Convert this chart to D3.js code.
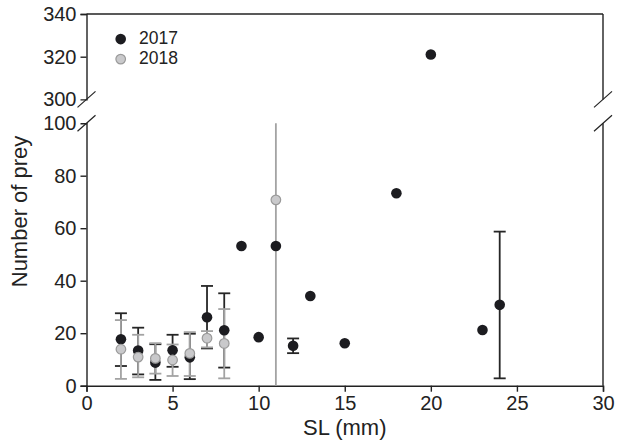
<!DOCTYPE html>
<html>
<head>
<meta charset="utf-8">
<script src="https://cdn.jsdelivr.net/npm/d3@7"></script>
<style>
  html, body { margin: 0; padding: 0; background: #fff; }
  svg text { font-family: "Liberation Sans", Arial, Helvetica, sans-serif; fill: #222; }
</style>
</head>
<body>
<svg id="chart" width="617" height="445"></svg>
<script>
// Prey counts by standard length (SL); mean with error range per size class
const sl2017   = [2, 3, 4, 5, 6, 7, 8, 9, 10, 11, 12, 13, 15, 18, 20, 23, 24];
const mean2017 = [17.7, 13.4, 8.8, 13.5, 10.8, 26.1, 21.1, 53.2, 18.5, 53.2, 15.2, 34.2, 16.2, 73.3, 321, 21.2, 30.8];
const lo2017   = [7.5, 4.3, 2.2, 7.2, 2.5, 14.2, 6.9, null, null, null, 12.4, null, null, null, null, null, 2.8];
const hi2017   = [27.6, 22.1, 15.8, 19.4, 19.8, 38.0, 35.2, null, null, null, 18.0, null, null, null, null, null, 58.7];

const sl2018   = [2, 3, 4, 5, 6, 7, 8, 11];
const mean2018 = [13.9, 10.9, 10.4, 9.8, 12.3, 18.1, 16.1, 70.8];
const lo2018   = [2.6, 3.2, 4.6, 3.7, 3.7, 14.6, 2.8, 0];
const hi2018   = [25.0, 19.4, 16.2, 15.7, 20.4, 20.8, 29.2, 100];

const xTicks = [0, 5, 10, 15, 20, 25, 30];
const yTicksLow = [0, 20, 40, 60, 80, 100];
const yTicksHigh = [300, 320, 340];
const seriesNames = ["2017", "2018"];

const svg = d3.select("#chart");
const left = 86.5, right = 603;
const lowTop = 123.2, lowBottom = 385.7;
const highTop = 14, highBottom = 99.4;

const x = d3.scaleLinear().domain([0, 30]).range([left, right]);
const yLow = d3.scaleLinear().domain([0, 100]).range([lowBottom, lowTop]);
const yHigh = d3.scaleLinear().domain([300, 340]).range([highBottom, highTop]);

const ink = "#222";
const greyLine = "#a3a3a3";
const greyFill = "#c9c9cb";
const greyStroke = "#9a9a9a";
const dark = "#1c1c20";

// value -> pixel across the broken axis
function yPos(v) { return v >= 300 ? yHigh(v) : yLow(v); }

// frame: top edge, right edge (broken), bottom handled by axis
svg.append("line").attr("x1", left).attr("x2", right).attr("y1", highTop).attr("y2", highTop)
  .attr("stroke", ink).attr("stroke-width", 1.4);
svg.append("line").attr("x1", right).attr("x2", right).attr("y1", highTop).attr("y2", highBottom)
  .attr("stroke", ink).attr("stroke-width", 1.4);
svg.append("line").attr("x1", right).attr("x2", right).attr("y1", lowTop).attr("y2", lowBottom)
  .attr("stroke", ink).attr("stroke-width", 1.4);

// left axes
function styleAxis(g) {
  g.select(".domain").attr("stroke", ink).attr("stroke-width", 1.4);
  g.selectAll(".tick line").attr("stroke", ink).attr("stroke-width", 1.4);
  g.selectAll(".tick text").attr("font-size", 20).attr("fill", ink);
}
const gHigh = svg.append("g").attr("transform", `translate(${left},0)`)
  .call(d3.axisLeft(yHigh).tickValues(yTicksHigh).tickSizeOuter(0).tickSize(6).tickPadding(4))
  .call(styleAxis);
gHigh.selectAll(".tick").filter(d => d === 300).select("line").remove();

const gLow = svg.append("g").attr("transform", `translate(${left},0)`)
  .call(d3.axisLeft(yLow).tickValues(yTicksLow).tickSizeOuter(0).tickSize(6).tickPadding(4))
  .call(styleAxis);
gLow.selectAll(".tick").filter(d => d === 100).select("line").remove();

const gx = svg.append("g").attr("transform", `translate(0,${lowBottom})`)
  .call(d3.axisBottom(x).tickValues(xTicks).tickSizeOuter(0).tickSize(6).tickPadding(4))
  .call(styleAxis);

// break marks on both vertical edges
[left, right].forEach(cx => {
  [highBottom, lowTop].forEach(cy => {
    svg.append("line")
      .attr("x1", cx - 9).attr("y1", cy + 8)
      .attr("x2", cx + 9).attr("y2", cy - 8)
      .attr("stroke", ink).attr("stroke-width", 1.2);
  });
});

// error bars
function errorBars(xs, lo, hi, color) {
  const cap = 6;
  const g = svg.append("g").attr("stroke", color).attr("stroke-width", 1.8).attr("fill", "none");
  xs.forEach((d, i) => {
    if (lo[i] == null || hi[i] == null) return;
    const px = x(d), y0 = yLow(lo[i]), y1 = yLow(Math.min(hi[i], 100));
    g.append("line").attr("x1", px).attr("x2", px).attr("y1", y0).attr("y2", y1);
    if (lo[i] > 0) g.append("line").attr("x1", px - cap).attr("x2", px + cap).attr("y1", y0).attr("y2", y0);
    if (hi[i] < 100) g.append("line").attr("x1", px - cap).attr("x2", px + cap).attr("y1", y1).attr("y2", y1);
  });
}
errorBars(sl2017, lo2017, hi2017, "#262626");
errorBars(sl2018, lo2018, hi2018, greyLine);

// points
svg.append("g").selectAll("circle").data(sl2017).join("circle")
  .attr("cx", d => x(d)).attr("cy", (d, i) => yPos(mean2017[i])).attr("r", 5.3)
  .attr("fill", dark);
svg.append("g").selectAll("circle").data(sl2018).join("circle")
  .attr("cx", d => x(d)).attr("cy", (d, i) => yPos(mean2018[i])).attr("r", 4.8)
  .attr("fill", greyFill).attr("stroke", greyStroke).attr("stroke-width", 1.2);

// legend
const legend = svg.append("g");
const legendRows = [38.3, 58.3];
legend.append("circle").attr("cx", 120.7).attr("cy", legendRows[0] + 0.8).attr("r", 5.3).attr("fill", dark);
legend.append("circle").attr("cx", 120.7).attr("cy", legendRows[1] + 0.8).attr("r", 4.8)
  .attr("fill", greyFill).attr("stroke", greyStroke).attr("stroke-width", 1.2);
legend.selectAll("text").data(seriesNames).join("text")
  .attr("x", 139).attr("y", (d, i) => legendRows[i]).attr("dy", "0.35em")
  .attr("font-size", 17.5).text(d => d);

// axis titles
svg.append("text").attr("x", (left + right) / 2).attr("y", 435).attr("text-anchor", "middle")
  .attr("font-size", 22).text("SL (mm)");
svg.append("text").attr("transform", `translate(27,${(lowTop + lowBottom) / 2 - 43}) rotate(-90)`)
  .attr("text-anchor", "middle").attr("font-size", 22).text("Number of prey");
</script>
</body>
</html>
